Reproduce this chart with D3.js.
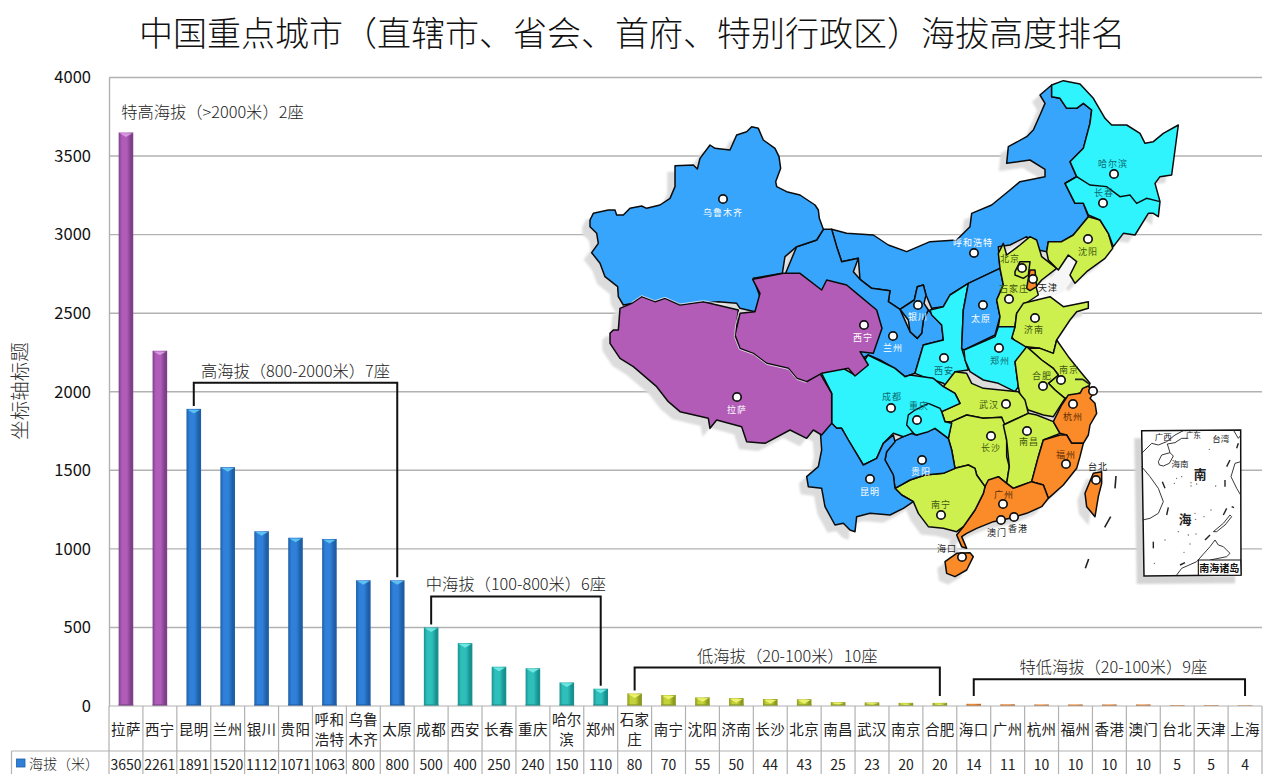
<!DOCTYPE html>
<html lang="zh">
<head>
<meta charset="utf-8">
<title>中国重点城市海拔高度排名</title>
<script src="https://cdn.jsdelivr.net/npm/d3@7/dist/d3.min.js"></script>
<style>
  html, body { margin: 0; padding: 0; background: #fff; overflow: hidden; }
  svg { display: block; }
  text { font-family: "Noto Sans CJK SC", "Noto Sans", sans-serif; }
</style>
</head>
<body>
<svg id="chart" width="1280" height="774"></svg>
<script>
// ---------- chart data ----------
const cityNames = ["拉萨","西宁","昆明","兰州","银川","贵阳","呼和浩特","乌鲁木齐","太原","成都","西安","长春","重庆","哈尔滨","郑州","石家庄","南宁","沈阳","济南","长沙","北京","南昌","武汉","南京","合肥","海口","广州","杭州","福州","香港","澳门","台北","天津","上海"];
const elevations = [3650,2261,1891,1520,1112,1071,1063,800,800,500,400,250,240,150,110,80,70,55,50,44,43,25,23,20,20,14,11,10,10,10,10,5,5,4];
const yTicks = [0,500,1000,1500,2000,2500,3000,3500,4000];
const wrappedNames = { "呼和浩特":["呼和","浩特"], "乌鲁木齐":["乌鲁","木齐"], "哈尔滨":["哈尔","滨"], "石家庄":["石家","庄"] };
const seriesName = "海拔（米）";
const axisTitle = "坐标轴标题";
const chartTitle = "中国重点城市（直辖市、省会、首府、特别行政区）海拔高度排名";

// Elevation tiers: index range of the cities in each, and the caption.
const tierStart = [0, 2, 9, 15, 25];
const tierEnd   = [1, 8, 14, 24, 33];
const tierLabel = ["特高海拔（>2000米）2座","高海拔（800-2000米）7座","中海拔（100-800米）6座","低海拔（20-100米）10座","特低海拔（20-100米）9座"];
// Height (in metres on the axis) of the horizontal run of each tier's bracket.
const bracketLevel = [null, 2057, 697, 245, 170];

const tierDark  = ["#7c4088","#1d5ea6","#16918f","#8b9a1e","#c06a28"];
const tierMid   = ["#b05cb8","#2f80d8","#2fbfba","#c3d238","#ec8a36"];
const tierLight = ["#d79ae0","#5cc0f0","#6fe6e0","#eef070","#f8b070"];

// ---------- scales ----------
const svg = d3.select("#chart");
const plotLeft = 109, plotRight = 1262, plotTop = 77.5, plotBottom = 706;
const x = d3.scaleBand().domain(cityNames).range([plotLeft, plotRight]).paddingInner(0.57).paddingOuter(0.285);
const y = d3.scaleLinear().domain([0, 4000]).range([plotBottom, plotTop]);
const step = x.step();
const mid = c => x(c) + x.bandwidth() / 2;
const tierOf = i => tierStart.findIndex((s, t) => i >= s && i <= tierEnd[t]);
const ruleColor = "#b2b2b2";

// ---------- bar gradients ----------
const defs = svg.append("defs");
tierDark.forEach((d, t) => {
  const g = defs.append("linearGradient").attr("id", "bar" + t).attr("x1", 0).attr("x2", 1).attr("y1", 0).attr("y2", 0);
  [[0, d], [0.22, tierMid[t]], [0.55, tierMid[t]], [0.85, d], [1, d]].forEach(([o, c]) =>
    g.append("stop").attr("offset", o).attr("stop-color", c));
});
defs.append("filter").attr("id", "soft").append("feGaussianBlur").attr("stdDeviation", 0.8);

// ---------- title and axis ----------
svg.append("text").attr("x", 632).attr("y", 31).attr("text-anchor", "middle").attr("dominant-baseline", "central")
  .attr("font-size", 34).attr("font-weight", 300).attr("fill", "#111").text(chartTitle);

svg.append("text").attr("transform", "translate(18,391) rotate(-90)").attr("text-anchor", "middle")
  .attr("dominant-baseline", "central").attr("font-size", 19.5).attr("font-weight", 300).attr("fill", "#333").text(axisTitle);

const grid = svg.append("g");
grid.selectAll("line").data(yTicks.slice(1)).join("line")
  .attr("x1", plotLeft).attr("x2", plotRight).attr("y1", d => y(d)).attr("y2", d => y(d))
  .attr("stroke", ruleColor).attr("stroke-width", 1.4);

const yAxis = svg.append("g").attr("transform", `translate(${plotLeft},0)`)
  .call(d3.axisLeft(y).tickValues(yTicks).tickSize(0).tickPadding(18).tickFormat(d3.format("d")));
yAxis.select(".domain").attr("stroke", ruleColor).attr("stroke-width", 1.4);
yAxis.selectAll("text").attr("font-family", '"Open Sans", sans-serif').attr("font-size", 16.5).attr("fill", "#111");

// ---------- map: outlines are stored in tile units, three units to a pixel,
// each tile with its own origin on the page ----------
const tile = (ox, oy) => pts => pts.map(([a, b]) => [ox + a / 3, oy + b / 3]);
const A = tile(580, 70), B = tile(920, 70), C = tile(800, 360), D = tile(860, 220), E = tile(600, 270), G = tile(1130, 420);

const BLUE = "#38a5fc", CYAN = "#2ff4fd", LIME = "#cdf04e", PURPLE = "#b25cb8", ORANGE = "#fb8a28";

const provinces = [
  [BLUE, [...A([[755,478],[800,490],[880,495],[925,525],[980,545],[1050,515]]),
    ...B([[30,515],[110,510],[150,470],[155,430],[215,405],[270,360],[300,335],[375,320],[375,298],[330,270],[260,280],[265,230],[320,200],[340,180],[360,135],[375,100],[360,75],[395,45],[395,80],[420,85],[440,115],[470,115],[490,100],[515,120],[510,160],[490,235],[450,275],[470,320],[435,340],[465,400],[490,400],[505,440],[460,495],[425,515],[385,515],[380,545],[355,540],[320,500],[270,525],[235,530]]),
    ...D([[420,145],[325,190],[270,225],[250,260],[215,265],[198,225],[190,195],[172,200],[163,240],[120,268],[85,245],[90,212],[35,205],[0,178],[-5,115],[-55,125],[-70,80],[-85,28]])]],
  [BLUE, D([[-110,28],[-85,28],[-70,80],[-55,125],[-5,115],[-20,155],[0,178],[35,205],[90,212],[85,245],[120,268],[150,335],[172,355],[185,340],[190,300],[205,270],[245,315],[250,360],[190,375],[165,460],[135,470],[105,445],[60,420],[25,405],[0,420],[-20,390],[-10,300],[-50,240],[-110,240],[-240,200],[-190,80],[-130,60]])],
  [BLUE, A([[30,450],[40,430],[85,420],[105,420],[110,435],[130,435],[150,415],[185,408],[200,415],[240,405],[270,385],[285,350],[285,287],[340,285],[352,297],[360,265],[390,225],[405,235],[450,240],[470,195],[500,185],[515,170],[535,175],[550,210],[585,235],[597,260],[602,295],[587,335],[590,350],[620,365],[660,375],[705,405],[715,420],[718,445],[730,478],[710,510],[650,530],[615,560],[607,610],[520,625],[540,680],[525,725],[480,715],[470,700],[415,695],[360,700],[340,705],[300,705],[265,690],[235,695],[210,690],[185,680],[160,700],[130,705],[115,680],[113,650],[75,620],[60,580],[35,548],[55,520],[50,490],[30,470]])],
  [BLUE, D([[120,268],[163,240],[172,200],[190,195],[198,225],[192,250],[205,270],[190,300],[185,340],[172,355],[150,335],[145,300]])],
  [CYAN, D([[210,270],[250,260],[270,225],[325,190],[310,270],[305,385],[325,450],[285,455],[280,510],[250,490],[190,470],[165,460],[190,375],[250,360],[245,315],[215,285]])],
  [BLUE, D([[305,385],[310,270],[325,190],[420,145],[430,195],[410,240],[420,290],[405,345],[312,390]])],
  [LIME, D([[420,145],[415,100],[430,70],[440,105],[480,75],[510,50],[530,60],[545,110],[590,145],[545,180],[528,200],[535,225],[490,255],[470,280],[465,320],[415,320],[420,290],[410,240],[430,195]])],
  [LIME, D([[465,155],[480,125],[510,125],[505,165],[490,175],[465,165]])],
  [ORANGE, D([[510,150],[525,150],[530,200],[510,212],[500,205],[505,175]])],
  [LIME, B([[385,515],[425,515],[460,495],[505,440],[540,450],[565,490],[578,535],[555,565],[500,605],[465,640],[450,615],[470,575],[445,555],[415,600],[385,570],[380,545]])],
  [CYAN, B([[395,45],[430,32],[480,42],[520,85],[555,145],[575,165],[620,165],[660,190],[675,220],[700,215],[730,190],[775,165],[765,240],[755,315],[720,320],[705,340],[720,395],[715,440],[700,430],[685,430],[645,495],[610,490],[580,530],[565,490],[540,450],[505,435],[490,400],[465,400],[435,340],[470,320],[450,275],[490,235],[510,160],[515,120],[490,100],[470,115],[440,115],[420,85],[395,80]])],
  [LIME, D([[455,350],[465,320],[470,280],[490,250],[530,240],[570,230],[610,260],[685,245],[685,265],[650,275],[630,300],[600,345],[590,360],[580,400],[540,385],[500,380],[480,385]])],
  [CYAN, D([[312,390],[405,350],[415,320],[465,320],[455,355],[505,385],[465,425],[475,500],[465,515],[415,490],[370,480],[330,455],[315,420]])],
  [LIME, D([[505,385],[540,385],[580,400],[590,360],[625,410],[665,460],[690,490],[685,505],[670,515],[615,535],[585,510],[565,490],[595,465],[580,445],[545,420]])],
  [LIME, D([[500,380],[465,425],[475,500],[480,525],[505,570],[550,585],[580,590],[615,535],[585,510],[565,490],[595,465],[580,445],[545,420]])],
  [LIME, C([[425,155],[480,130],[465,100],[430,80],[465,35],[500,40],[515,70],[550,85],[655,95],[675,120],[685,160],[610,195],[605,172],[550,175],[500,165],[455,185],[435,185]])],
  [LIME, C([[455,185],[500,165],[550,175],[605,172],[615,195],[620,240],[620,290],[628,320],[620,370],[595,350],[575,365],[555,380],[530,345],[525,325],[505,315],[465,325],[455,270],[445,235]])],
  [LIME, C([[610,195],[685,160],[710,165],[760,185],[780,220],[730,240],[715,290],[695,365],[640,385],[620,370],[628,320],[620,240]])],
  [ORANGE, C([[760,185],[785,135],[805,105],[840,100],[848,85],[865,78],[880,100],[870,115],[885,130],[890,160],[870,195],[865,225],[850,250],[815,250],[800,225],[780,220]])],
  [ORANGE, C([[780,225],[800,225],[815,250],[850,250],[840,290],[830,325],[790,375],[745,415],[730,375],[695,365],[715,290],[730,240]])],
  [ORANGE, C([[555,380],[565,360],[595,350],[620,370],[640,385],[695,365],[730,375],[745,415],[725,440],[680,460],[630,475],[580,485],[530,505],[500,520],[485,530],[500,565],[485,560],[470,525],[490,500],[525,450],[550,400]])],
  [LIME, C([[285,385],[330,360],[375,345],[430,340],[465,325],[505,315],[525,325],[530,345],[555,380],[550,400],[525,450],[490,500],[470,515],[430,505],[385,500],[355,460],[340,425],[305,405]])],
  [BLUE, C([[260,275],[280,245],[310,230],[335,220],[350,225],[405,205],[445,235],[455,270],[465,325],[430,340],[375,345],[330,360],[285,385],[280,345],[255,300]])],
  [CYAN, C([[65,-20],[60,30],[95,100],[95,190],[110,205],[125,205],[145,240],[190,315],[230,295],[250,250],[280,220],[310,230],[335,220],[350,225],[385,215],[405,205],[445,235],[455,190],[435,185],[425,155],[480,130],[465,100],[430,80],[400,55],[330,45],[315,50],[285,25],[204,-15],[165,45],[120,20],[90,-15]])],
  [BLUE, C([[60,200],[95,190],[110,205],[125,205],[145,240],[190,315],[230,295],[250,250],[280,225],[285,245],[260,275],[255,300],[280,345],[285,385],[305,405],[340,425],[310,445],[270,465],[210,460],[170,470],[165,515],[150,510],[130,490],[105,495],[75,440],[65,385],[25,380],[20,350],[55,320],[65,270]])],
  [PURPLE, E([[30,190],[40,180],[55,180],[60,115],[95,100],[125,80],[165,95],[195,85],[240,105],[310,95],[415,120],[405,200],[420,235],[460,250],[500,280],[565,295],[590,325],[620,335],[660,310],[695,370],[695,460],[665,495],[640,480],[620,505],[570,480],[495,520],[440,515],[425,470],[350,450],[330,475],[325,445],[240,425],[205,395],[170,350],[100,290],[60,265],[30,220]])],
  [PURPLE, E([[458,28],[550,10],[600,10],[665,60],[680,30],[740,45],[770,70],[830,120],[846,175],[820,250],[780,245],[805,285],[765,318],[745,295],[665,310],[620,335],[590,325],[565,295],[500,280],[460,250],[420,235],[405,195],[420,130],[465,125],[480,70]])],
  [ORANGE, C([[435,605],[470,580],[510,578],[520,590],[500,630],[465,650],[440,640]])],
  [ORANGE, C([[880,340],[905,335],[905,370],[895,410],[885,470],[860,440],[855,400]])]
];
// Borders that lie inside one filled shape
const innerBorders = [
  B([[435,340],[470,320],[510,345],[560,350],[600,380],[630,375],[650,400],[680,385],[720,395]]),
  C([[385,130],[345,150],[325,165],[320,195],[345,225]]),
  C([[385,130],[420,145],[425,155]])
];
// Thin pale edge running along the Tibet borders
const paleEdges = [
  E([[95,97],[125,77],[165,92],[195,82],[240,102],[310,92],[380,105]]),
  E([[417,125],[407,165],[403,200],[418,238],[460,253],[500,283],[565,298],[590,328],[620,338]])
];
const bohaiBay = B([[345,670],[400,620],[440,560],[470,560],[475,600],[450,640],[430,665],[390,680]]);
const islandDashes = [C([[948,348],[945,385]]), C([[932,470],[914,502]]), C([[866,597],[856,625]]), D([[645,478],[668,478],[688,492]])];

// Planar GeoJSON through an identity projection: tile coordinates are already on the page.
const planar = d3.geoPath(d3.geoIdentity());
const polygon = ring => ({ type: "Polygon", coordinates: [[...ring, ring[0]]] });
const stroked = pts => ({ type: "LineString", coordinates: pts });

const map = svg.append("g");
map.append("g").attr("transform", "translate(-7,7)").attr("filter", "url(#soft)")
  .selectAll("path").data(provinces).join("path")
  .attr("d", d => planar(polygon(d[1]))).attr("fill", "#dcdcdc").attr("stroke", "#dcdcdc").attr("stroke-width", 1.5);
map.append("path").attr("d", planar(polygon(bohaiBay))).attr("fill", "#f6f6f6");
map.append("g").selectAll("path").data(provinces).join("path")
  .attr("d", d => planar(polygon(d[1]))).attr("fill", d => d[0])
  .attr("stroke", "#0b0b0b").attr("stroke-width", 1.5).attr("stroke-linejoin", "round");
map.append("g").selectAll("path").data(innerBorders).join("path")
  .attr("d", d => planar(stroked(d))).attr("fill", "none").attr("stroke", "#0b0b0b").attr("stroke-width", 1.4);
map.append("g").selectAll("path").data(paleEdges).join("path")
  .attr("d", d => planar(stroked(d))).attr("fill", "none").attr("stroke", "#f4ecf6").attr("stroke-width", 0.8);
map.append("g").selectAll("path").data(islandDashes).join("path")
  .attr("d", d => planar(stroked(d))).attr("fill", "none").attr("stroke", "#222").attr("stroke-width", 1.6);

// South China Sea inset
const insetFrame = G([[35,32],[332,30],[333,465],[42,468]]);
const insetShade = G([[13,55],[36,55],[42,468],[315,467],[315,490],[20,492]]);
const insetCoast = [
  [[35,100],[65,70],[85,75],[110,65],[135,45],[160,32]],
  [[120,98],[112,72],[135,68],[155,55],[175,55]],
  [[85,125],[95,105],[120,98],[130,108],[118,130],[100,138],[88,135],[85,125]],
  [[35,140],[60,170],[85,205],[100,245],[85,280],[60,295],[38,300]],
  [[310,30],[325,55],[333,45]],
  [[332,125],[315,130],[303,170],[320,205],[332,225]],
  [[250,335],[280,310],[300,285],[305,290],[285,315],[260,335],[250,335]],
  [[140,465],[155,445],[200,425],[240,380],[255,360],[265,375],[280,380],[300,400],[290,410],[240,420],[205,455]]
];
const insetDashes = [
  [[300,120],[290,140]],[[325,70],[320,85]],[[97,185],[105,205]],[[285,180],[285,200]],
  [[115,262],[110,285]],[[290,265],[280,285]],[[305,260],[312,263]],[[240,345],[225,360]],
  [[70,365],[70,385]],[[150,435],[165,428]]
];
const insetDots = [[238,88],[140,175],[155,170],[133,190],[183,188],[200,192],[183,198],[257,198],[195,280],[197,298],[222,290],[243,270],[145,335],[175,345],[198,342],[180,372],[105,360],[162,397],[73,430]];
const insetLabels = [["广西",100,47,10],["广东",190,42,9],["台湾",272,55,10],["海南",150,128,10],["南",210,160,15],["海",165,295,15]];
const inset = map.append("g");
inset.append("path").attr("d", planar(polygon(insetShade))).attr("fill", "#d4d4d4").attr("filter", "url(#soft)");
inset.append("path").attr("d", planar(polygon(insetFrame))).attr("fill", "#fff").attr("stroke", "#111").attr("stroke-width", 1.5);
inset.append("g").selectAll("path").data(insetCoast).join("path")
  .attr("d", d => planar(stroked(G(d)))).attr("fill", "none").attr("stroke", "#222").attr("stroke-width", 0.9);
inset.append("g").selectAll("path").data(insetDashes).join("path")
  .attr("d", d => planar(stroked(G(d)))).attr("fill", "none").attr("stroke", "#222").attr("stroke-width", 1.4);
inset.append("g").selectAll("circle").data(insetDots.map(p => G([p])[0])).join("circle")
  .attr("cx", d => d[0]).attr("cy", d => d[1]).attr("r", 0.7).attr("fill", "#666");
inset.append("g").selectAll("text").data(insetLabels).join("text")
  .attr("x", d => G([[d[1], d[2]]])[0][0]).attr("y", d => G([[d[1], d[2]]])[0][1])
  .attr("text-anchor", "middle").attr("dominant-baseline", "central").attr("font-size", d => d[3] * 0.85)
  .attr("font-weight", d => d[3] > 12 ? 700 : 400).attr("fill", "#222").text(d => d[0]);
const keyBox = G([[205,420],[332,420],[333,465],[205,466]]);
inset.append("path").attr("d", planar(polygon(keyBox))).attr("fill", "#fff").attr("stroke", "#111").attr("stroke-width", 1.1);
inset.append("text").attr("x", G([[268,443]])[0][0]).attr("y", G([[268,443]])[0][1]).attr("text-anchor", "middle")
  .attr("dominant-baseline", "central").attr("font-size", 10).attr("font-weight", 700).attr("fill", "#111").text("南海诸岛");

// City markers with their names
const WHITE = "#ffffff", TEAL = "#0d6a70", OLIVE = "#3f5a10", RUST = "#5b2c06", INK = "#222222";
const mapCities = [
  ["乌鲁木齐",723,199,723,212,WHITE],["西宁",864,325,863,337,WHITE],["兰州",893,336,893,347,WHITE],["银川",918,305,918,316,WHITE],
  ["拉萨",737,397,737,409,WHITE],["呼和浩特",974,253,973,242,WHITE],["太原",983,305,981,318,WHITE],["西安",944,358,944,370,TEAL],
  ["成都",891,408,892,396,TEAL],["重庆",917,420,919,405,TEAL],["昆明",870,479,870,491,WHITE],["贵阳",922,460,921,471,WHITE],
  ["南宁",941,515,941,504,OLIVE],["武汉",1006,404,989,404,OLIVE],["长沙",991,436,991,447,OLIVE],["南昌",1027,431,1029,441,OLIVE],
  ["合肥",1043,386,1042,375,OLIVE],["南京",1061,380,1069,369,OLIVE],["郑州",999,348,1000,360,TEAL],["济南",1035,318,1034,329,OLIVE],
  ["石家庄",1009,299,1014,288,OLIVE],["北京",1022,268,1010,258,OLIVE],["天津",1033,279,1048,287,INK],["沈阳",1088,239,1088,251,OLIVE],
  ["长春",1103,203,1104,192,TEAL],["哈尔滨",1114,174,1113,163,TEAL],["上海",1093,391,null,null,null],["杭州",1073,404,1073,416,RUST],
  ["福州",1066,464,1066,454,RUST],["广州",1003,504,1004,494,RUST],["澳门",1001,520,997,532,INK],["香港",1014,517,1018,528,INK],
  ["海口",962,557,947,548,INK],["台北",1096,480,1098,466,INK]
];
const cityLayer = map.append("g");
cityLayer.selectAll("circle").data(mapCities).join("circle")
  .attr("cx", d => d[1]).attr("cy", d => d[2]).attr("r", 4.2)
  .attr("fill", "#fff").attr("stroke", "#111").attr("stroke-width", 1.7);
cityLayer.selectAll("text").data(mapCities.filter(d => d[3] !== null)).join("text")
  .attr("x", d => d[3]).attr("y", d => d[4]).attr("text-anchor", "middle").attr("dominant-baseline", "central")
  .attr("font-size", 9).attr("letter-spacing", 1).attr("fill", d => d[5]).text(d => d[0]);

// ---------- bars ----------
const bars = svg.append("g");
const rows = cityNames.map((c, i) => ({ c, v: elevations[i], t: tierOf(i) }));
bars.selectAll("rect.body").data(rows).join("rect").attr("class", "body")
  .attr("x", d => x(d.c)).attr("width", x.bandwidth())
  .attr("y", d => y(d.v)).attr("height", d => y(0) - y(d.v))
  .attr("fill", d => `url(#bar${d.t})`);
// bevelled cap at the top of each bar
bars.selectAll("polygon.cap").data(rows.filter(d => y(0) - y(d.v) > 2.5)).join("polygon").attr("class", "cap")
  .attr("points", d => {
    const l = x(d.c), w = x.bandwidth(), top = y(d.v), h = Math.min(4.5, (y(0) - top) * 0.7);
    return [[l + 1, top + 0.8], [l + w - 1, top + 0.8], [l + w / 2, top + h]].join(" ");
  })
  .attr("fill", d => tierLight[d.t]);
// shaded foot of each bar
bars.selectAll("rect.foot").data(rows).join("rect").attr("class", "foot")
  .attr("x", d => x(d.c)).attr("width", x.bandwidth())
  .attr("y", d => y(0) - Math.min(1.6, (y(0) - y(d.v)) * 0.35)).attr("height", d => Math.min(1.6, (y(0) - y(d.v)) * 0.35))
  .attr("fill", d => tierDark[d.t]);

// ---------- tier brackets and captions ----------
const brackets = svg.append("g");
const bracketLine = d3.line();
tierLabel.forEach((label, t) => {
  if (bracketLevel[t] === null) {
    svg.append("text").attr("x", x(cityNames[tierStart[t]]) + 2.5).attr("y", y(3785)).attr("dominant-baseline", "central")
      .attr("font-size", 16.3).attr("font-weight", 300).attr("fill", "#222").text(label);
    return;
  }
  const from = tierStart[t], to = tierEnd[t];
  const level = y(bracketLevel[t]);
  // tiers so low that the bars barely rise get brackets stopping just above them
  const footL = y(Math.max(elevations[from], 45)) - 3;
  const footR = y(Math.max(elevations[to], 45)) - 3;
  brackets.append("path")
    .attr("d", bracketLine([[mid(cityNames[from]), footL], [mid(cityNames[from]), level], [mid(cityNames[to]), level], [mid(cityNames[to]), footR]]))
    .attr("fill", "none").attr("stroke", "#111").attr("stroke-width", 2);
  svg.append("text").attr("x", (mid(cityNames[from]) + mid(cityNames[to])) / 2 + (t === 4 ? 4 : 0)).attr("y", level - 13)
    .attr("text-anchor", "middle").attr("dominant-baseline", "central")
    .attr("font-size", 16.3).attr("font-weight", 300).attr("fill", "#222").text(label);
});

// ---------- data table under the axis ----------
const tableLeft = 11.5, tableMid = 751, tableBottom = 775;
const table = svg.append("g");
const rules = [
  [plotLeft, plotBottom, plotRight, plotBottom],
  [tableLeft, tableMid, plotRight, tableMid],
  [tableLeft, tableMid, tableLeft, tableBottom]
];
d3.range(cityNames.length + 1).forEach(i => {
  const xi = plotLeft + i * step;
  rules.push([xi, plotBottom, xi, tableBottom]);
});
table.selectAll("line").data(rules).join("line")
  .attr("x1", d => d[0]).attr("y1", d => d[1]).attr("x2", d => d[2]).attr("y2", d => d[3])
  .attr("stroke", ruleColor).attr("stroke-width", 1.2);

const names = table.append("g").attr("font-size", 14.5).attr("fill", "#222").attr("text-anchor", "middle");
cityNames.forEach(c => {
  const lines = wrappedNames[c] || [c];
  lines.forEach((ln, k) => {
    const yc = lines.length === 1 ? 728.5 : 718.5 + k * 20;
    names.append("text").attr("x", mid(c)).attr("y", yc).attr("dominant-baseline", "central")
      .attr("letter-spacing", 0.4).text(ln);
  });
});
table.append("g").selectAll("text").data(rows).join("text")
  .attr("x", d => mid(d.c)).attr("y", 763.5).attr("text-anchor", "middle").attr("dominant-baseline", "central")
  .attr("font-family", '"Open Sans", sans-serif').attr("font-size", 14).attr("fill", "#222").text(d => d.v);
table.append("rect").attr("x", 16.5).attr("y", 759).attr("width", 8.5).attr("height", 8)
  .attr("fill", tierMid[1]).attr("stroke", "#1d5ea6").attr("stroke-width", 0.8);
table.append("text").attr("x", 29).attr("y", 763).attr("dominant-baseline", "central")
  .attr("font-size", 14).attr("font-weight", 300).attr("fill", "#222").text(seriesName);
</script>
</body>
</html>
